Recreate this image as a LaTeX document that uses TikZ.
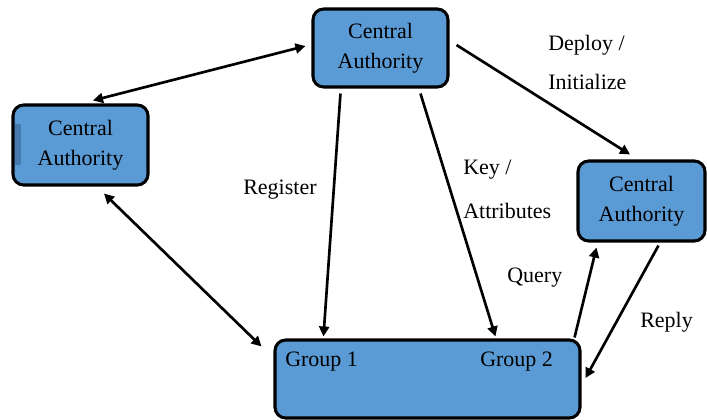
\documentclass[tikz,border=0pt]{standalone}
\usepackage{fontspec}
\setmainfont{Liberation Serif}
\usetikzlibrary{calc,arrows.meta}

\definecolor{boxblue}{HTML}{5B9BD5}
\definecolor{stripblue}{HTML}{4679AC}

\begin{document}
\begin{tikzpicture}[x=0.75pt,y=-0.75pt,
    cabox/.style={draw=black,fill=boxblue,rounded corners=8pt,line width=2.3pt,
      minimum width=#1,align=center,font=\fontsize{16.5}{22.5}\selectfont,inner sep=0pt},
    cabox/.default=101.25pt,
    lbl/.style={anchor=west,inner sep=0pt,font=\fontsize{16.5}{20}\selectfont},
    link/.style={line width=2pt,-{Triangle[length=7.5pt,width=7.5pt]}},
    dlink/.style={line width=2pt,{Triangle[length=7.5pt,width=7.5pt]}-{Triangle[length=7.5pt,width=7.5pt]}}]

  %%%% Frame of the page %%%%
  \useasboundingbox (0,0) rectangle (707,419);

  %% The three authorities
  \node[cabox,minimum height=58.5pt] (caTop) at (380.5,48) {Central\\Authority};
  \node[cabox,minimum height=60pt] (caLeft) at (80.5,145) {Central\\Authority};
  \node[cabox,minimum height=60pt,minimum width=95.25pt] (caRight) at (641.5,201) {Central\\Authority};

  %% dark strip on the left authority
  \fill[stripblue] (15,124) rectangle (21,165);

  %% Group box
  \node[cabox,minimum width=228.75pt,minimum height=58.5pt] (grp) at (427.5,379) {};
  \node[lbl] (g1) at (285,362) {Group 1};
  \node[lbl] (g2) at (480,362) {Group 2};

  %% Arrows between the boxes
  \draw[dlink] ([shift={(-6,-2)}]caTop.west) -- ([shift={(12.5,-3)}]caLeft.north);
  \draw[dlink] ([shift={(23.5,7)}]caLeft.south) -- ([shift={(-12,8)}]grp.north west);
  \draw[link] ([shift={(29,5)}]caTop.south west) -- ([shift={(50,-2)}]grp.north west);
  \draw[link] ([shift={(109,5)}]caTop.south west) -- ([shift={(222,-2)}]grp.north west);
  \draw[link] ([shift={(7,-3)}]caTop.east) -- ([shift={(-11.5,-5)}]caRight.north);
  \draw[link] ([shift={(-7,-1)}]grp.north east) -- ([shift={(20,5)}]caRight.south west);
  \draw[link] ([shift={(82,3)}]caRight.south west) -- ([shift={(4,-1)}]grp.east);

  %% Labels on the arrows
  \node[lbl] (deploy) at (548,45) {Deploy /};
  \node[lbl] (init) at (548,82) {Initialize};
  \node[lbl] (reg) at (243,190) {Register};
  \node[lbl] (key) at (463,170) {Key /};
  \node[lbl] (attr) at (463,211) {Attributes};
  \node[lbl] (query) at (507,278) {Query};
  \node[lbl] (reply) at (640,322) {Reply};

\end{tikzpicture}
\end{document}
